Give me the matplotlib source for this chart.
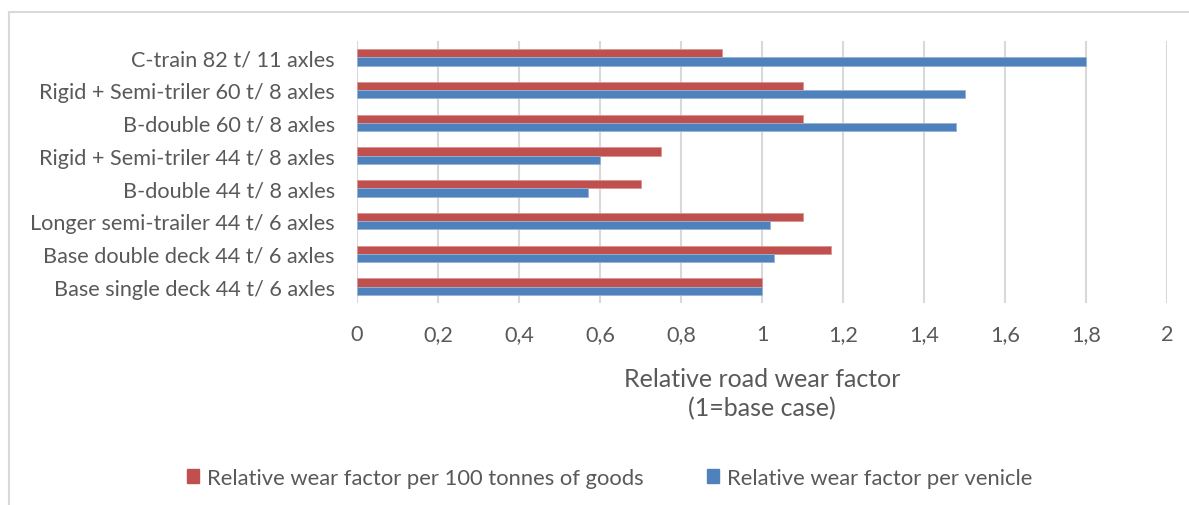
import matplotlib.pyplot as plt
import numpy as np
from matplotlib.lines import Line2D
from matplotlib.patches import Patch

plt.rcParams['font.family'] = ['Lato', 'DejaVu Sans']

categories = [
    "Base single deck 44 t/ 6 axles",
    "Base double deck 44 t/ 6 axles",
    "Longer semi-trailer 44 t/ 6 axles",
    "B-double 44 t/ 8 axles",
    "Rigid + Semi-triler 44 t/ 8 axles",
    "B-double 60 t/ 8 axles",
    "Rigid + Semi-triler 60 t/ 8 axles",
    "C-train 82 t/ 11 axles",
]
per_goods = [1.0, 1.17, 1.10, 0.70, 0.75, 1.10, 1.10, 0.90]
per_vehicle = [1.0, 1.03, 1.02, 0.57, 0.60, 1.48, 1.50, 1.80]
xticks = [0, 0.2, 0.4, 0.6, 0.8, 1, 1.2, 1.4, 1.6, 1.8, 2]

red = "#C0504D"
blue = "#4F81BD"
txt = "#595959"
grid = "#D9D9D9"

fig = plt.figure(figsize=(11.89, 5.06), dpi=100)
ax = fig.add_axes([357 / 1189, 1 - 304 / 506, 810 / 1189, 262 / 506])

y = np.arange(len(categories))
h = 0.25
ax.barh(y + h / 2, per_goods, height=h, color=red, edgecolor="#D99694", linewidth=0.6, zorder=3)
ax.barh(y - h / 2, per_vehicle, height=h, color=blue, edgecolor="#95B3D7", linewidth=0.6, zorder=3)

ax.set_xlim(0, 2)
ax.set_ylim(-0.5, len(categories) - 0.5)
ax.set_xticks(xticks)
ax.set_xticklabels([("%g" % v).replace(".", ",") for v in xticks])
ax.set_yticks(y)
ax.set_yticklabels(categories)
ax.tick_params(axis="both", length=0, colors=txt, labelsize=15.6)
ax.tick_params(axis="x", pad=15)
ax.tick_params(axis="y", pad=16)
ax.xaxis.grid(True, color=grid, linewidth=1.5, zorder=0)
for s in ax.spines.values():
    s.set_visible(False)

ax.set_xlabel("Relative road wear factor\n(1=base case)", color=txt, fontsize=18,
              labelpad=17, linespacing=1.3)

handles = [Patch(color=red), Patch(color=blue)]
fig.legend(handles, ["Relative wear factor per 100 tonnes of goods", "Relative wear factor per venicle"],
           loc="center", bbox_to_anchor=(0.513, 1 - 479 / 506), ncol=2, frameon=False,
           fontsize=15.8, labelcolor=txt, handlelength=0.55, handleheight=0.6,
           handletextpad=0.35, columnspacing=2.9)

fig.add_artist(Line2D([9 / 1189, 9 / 1189], [0, 1 - 13 / 506], color=grid, linewidth=1.5))
fig.add_artist(Line2D([9 / 1189, 1], [1 - 13 / 506, 1 - 13 / 506], color=grid, linewidth=1.5))

fig.savefig("out.png", dpi=100)
